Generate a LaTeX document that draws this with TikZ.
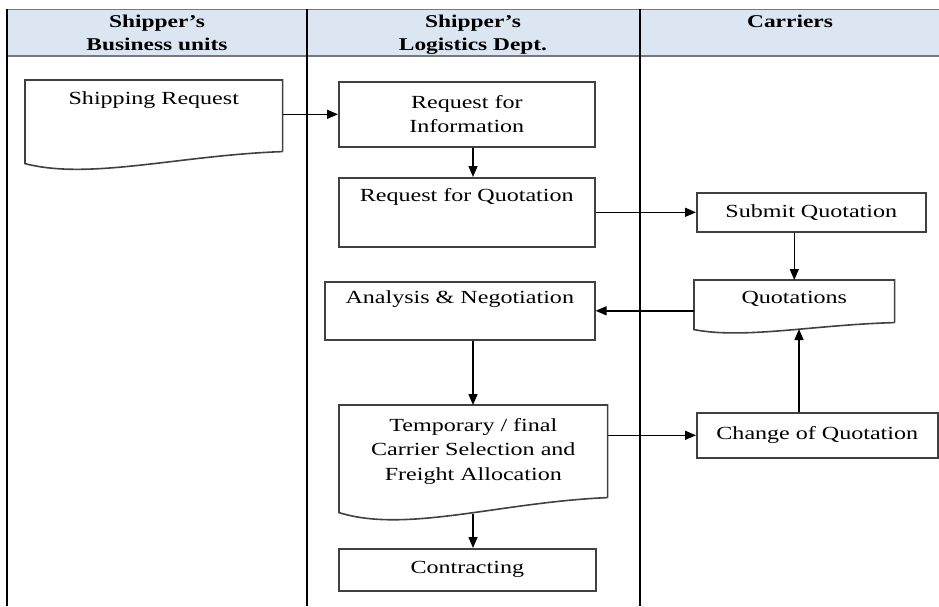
\documentclass[tikz,border=0pt]{standalone}
\usepackage{fontspec}
\setmainfont{Liberation Serif}[FakeStretch=1.3]
\usetikzlibrary{arrows.meta,calc}
\definecolor{headblue}{RGB}{220,230,242}
\definecolor{rulegray}{RGB}{120,120,120}
\tikzset{
  lane/.style={line width=1.4pt},
  procbox/.style={draw=black!75, line width=1.6pt, rectangle, anchor=north west, inner sep=0pt,
    align=center, font=\fontsize{18.5}{24.5}\selectfont},
  docbox/.style={procbox, draw=none},
  headtext/.style={anchor=north, inner sep=0pt, align=center, font=\fontsize{18}{23}\selectfont\bfseries},
  flow/.style={-{Triangle[length=11pt,width=9pt]}, line width=1.5pt}
}
\newcommand{\docoutline}[2]{%
  \draw[draw=black!75, line width=1.6pt]
    (#1.south east) -- (#1.north east) -- (#1.north west) -- ([yshift=-#2pt]#1.south west)
    .. controls ([yshift=-2.4*#2pt]$(#1.south west)!0.25!(#1.south east)$)
    and ([yshift=-0.3*#2pt]$(#1.south west)!0.6!(#1.south east)$) .. (#1.south east);}
\begin{document}
\begin{tikzpicture}[x=1pt, y=-1pt]
      \useasboundingbox (0,0) rectangle (939,606);

      \fill[headblue] (7,9) rectangle (939,56);
      \draw[rulegray, line width=1pt] (7,9) -- (939,9);
      \draw[rulegray, line width=2.5pt] (7,56) -- (939,56);
      \foreach \lx in {7,307,640}
        \draw[lane] (\lx,9) -- (\lx,606);

      \node[headtext] (hbusiness) at (157,15) {Shipper's\\Business units};
      \node[headtext] (hlogistics) at (473,15) {Shipper's\\Logistics Dept.};
      \node[headtext] (hcarriers) at (790,15) {Carriers};

      \node[docbox, minimum width=256pt, text height=24pt, text depth=46pt] (ship) at (25,80) {Shipping Request};
      \node[procbox, minimum width=256pt, minimum height=65pt] (rfi) at (338,81) {Request for\\Information};
      \node[procbox, minimum width=256pt, text height=24pt, text depth=45pt] (rfq) at (338,177) {Request for Quotation};
      \node[procbox, minimum width=270pt, text height=22pt, text depth=36pt] (ana) at (324,281) {Analysis \& Negotiation};
      \node[docbox, minimum width=267pt, minimum height=91pt] (temp) at (339,405) {Temporary / final\\Carrier Selection and\\Freight Allocation};
      \node[procbox, minimum width=257pt, minimum height=42pt] (contract) at (338,548) {Contracting};
      \node[procbox, minimum width=229pt, minimum height=39pt] (submit) at (696,192) {Submit Quotation};
      \node[docbox, minimum width=199pt, text height=23pt, text depth=18pt] (quot) at (694,280) {Quotations};
      \node[procbox, minimum width=241pt, minimum height=45pt] (change) at (696,412) {Change of Quotation};

      \docoutline{ship}{12}
      \docoutline{temp}{15}
      \docoutline{quot}{7}

      \coordinate (spine) at (473,0);
      \coordinate (qdip) at (799,329);

      \draw[flow] (ship.east |- rfi.west) -- (rfi.west);
      \draw[flow] (rfi.south -| spine) -- (rfq.north -| spine);
      \draw[flow] (rfq.east) -- (submit.west);
      \draw[flow] (submit.south -| quot.north) -- (quot.north);
      \draw[flow] (quot.west |- ana.east) -- (ana.east);
      \draw[flow] (ana.south -| spine) -- (temp.north -| spine);
      \draw[flow] (temp.east |- change.west) -- (change.west);
      \draw[flow] (change.north -| qdip) -- (qdip);
      \draw[flow] ([yshift=-16pt]temp.south -| spine) -- (contract.north -| spine);

\end{tikzpicture}
\end{document}
